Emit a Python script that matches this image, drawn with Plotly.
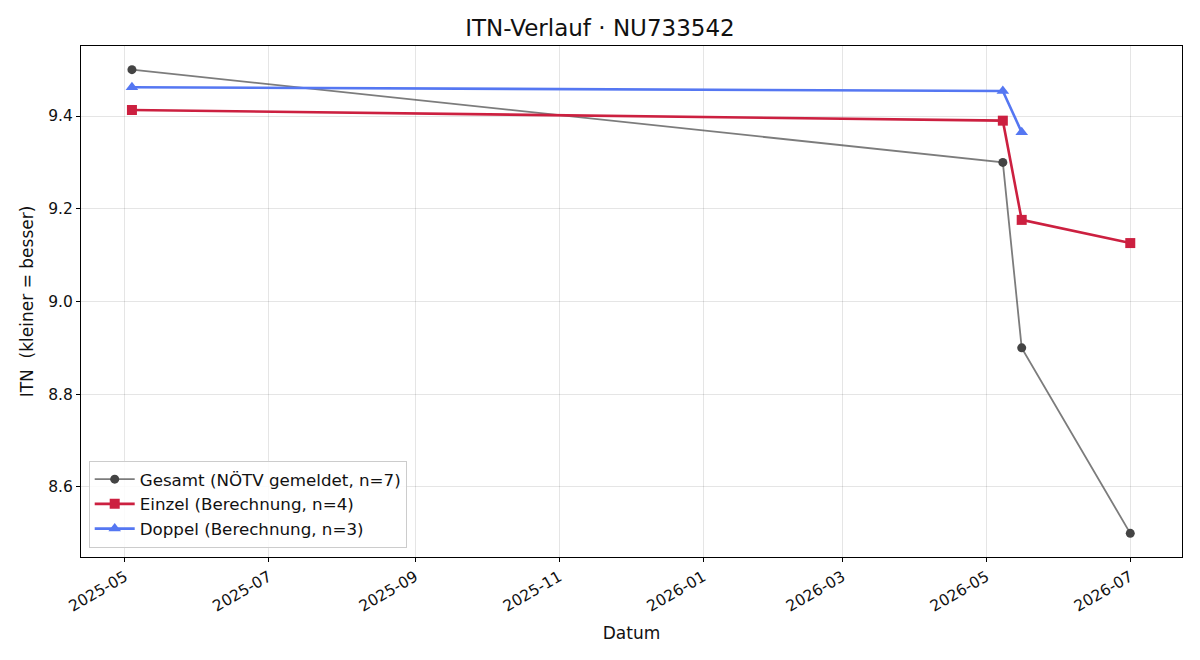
import plotly.graph_objects as go

# Data
gesamt_dates = ["2025-05-04", "2026-05-08", "2026-05-16", "2026-07-01"]
gesamt_itn = [9.50, 9.30, 8.90, 8.50]

einzel_dates = ["2025-05-04", "2026-05-08", "2026-05-16", "2026-07-01"]
einzel_itn = [9.413, 9.390, 9.176, 9.126]

doppel_dates = ["2025-05-04", "2026-05-08", "2026-05-16"]
doppel_itn = [9.462, 9.454, 9.365]

title = "ITN-Verlauf · NU733542"
FONT = "DejaVu Sans"

fig = go.Figure()
fig.add_trace(go.Scatter(
    x=gesamt_dates, y=gesamt_itn, mode="lines+markers",
    name="Gesamt (NÖTV gemeldet, n=7)",
    line=dict(color="rgba(68,68,68,0.7)", width=1.8),
    marker=dict(symbol="circle", size=9, color="#444444"),
))
fig.add_trace(go.Scatter(
    x=einzel_dates, y=einzel_itn, mode="lines+markers",
    name="Einzel (Berechnung, n=4)",
    line=dict(color="#CC2040", width=2.6),
    marker=dict(symbol="square", size=10, color="#CC2040"),
))
fig.add_trace(go.Scatter(
    x=doppel_dates, y=doppel_itn, mode="lines+markers",
    name="Doppel (Berechnung, n=3)",
    line=dict(color="#5577F2", width=2.6),
    marker=dict(symbol="triangle-up", size=11, color="#5577F2"),
))

fig.update_layout(
    width=1200, height=660,
    margin=dict(l=81, r=18, t=46, b=103),
    paper_bgcolor="white", plot_bgcolor="white",
    font=dict(family=FONT, size=15, color="#111111"),
    title=dict(text=title, x=0.5, xanchor="center", y=0.957, yanchor="middle",
               font=dict(size=23, family=FONT)),
    legend=dict(x=0.007, y=0.018, xanchor="left", yanchor="bottom",
                bgcolor="rgba(255,255,255,0.85)", bordercolor="#cccccc", borderwidth=1,
                font=dict(size=16.7, family=FONT), tracegroupgap=2, itemwidth=40),
    showlegend=True,
)
fig.update_xaxes(
    type="date", range=["2025-04-12 10:00", "2026-07-22 22:00"],
    tick0="2025-05-01", dtick="M2", tickformat="%Y-%m", tickangle=-30,
    ticks="outside", ticklen=4, tickcolor="black", tickfont=dict(size=15.5),
    showgrid=True, gridcolor="rgba(0,0,0,0.1)",
    showline=True, linecolor="black", linewidth=1.2, mirror=True,
    title=dict(text="Datum", font=dict(size=17), standoff=12),
    zeroline=False,
)
fig.update_yaxes(
    range=[8.449, 9.551], tickvals=[8.6, 8.8, 9.0, 9.2, 9.4],
    ticktext=["8.6", "8.8", "9.0", "9.2", "9.4"],
    ticks="outside", ticklen=4, tickcolor="black", tickfont=dict(size=15.5),
    showgrid=True, gridcolor="rgba(0,0,0,0.1)",
    showline=True, linecolor="black", linewidth=1.2, mirror=True,
    title=dict(text="ITN  (kleiner = besser)", font=dict(size=17), standoff=10),
    zeroline=False,
)

fig.write_html("out.html")
